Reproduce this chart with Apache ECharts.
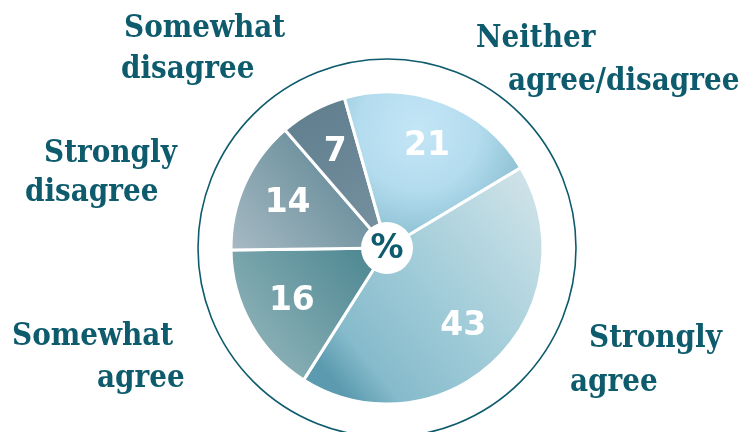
<!DOCTYPE html>
<html>
<head>
<meta charset="utf-8">
<script src="https://cdn.jsdelivr.net/npm/echarts@6/dist/echarts.min.js"></script>
<style>
  html, body { margin: 0; padding: 0; background: #fff; }
  #chart { width: 752px; height: 432px; }
</style>
</head>
<body>
<div id="chart"></div>
<script>
// Survey responses, in percent, listed clockwise from the upper-right edge
const categories = ['Strongly agree', 'Somewhat agree', 'Strongly disagree', 'Somewhat disagree', 'Neither agree/disagree'];
const values = [43, 16, 14, 7, 21];
const centerSymbol = '%';

const teal = '#0d5b6c';
const cx = 387, cy = 248, pieR = 156;

// Shaded fill for each slice
const fills = [
  { type: 'linear', x: 0.05, y: 0.8, x2: 0.95, y2: 0.05, colorStops: [
    { offset: 0, color: '#5b9aaf' }, { offset: 0.14, color: '#86bbcb' },
    { offset: 0.55, color: '#a6cfdb' }, { offset: 1, color: '#d0e3e8' }] },
  { type: 'linear', x: 1, y: 0, x2: 0, y2: 1, colorStops: [
    { offset: 0, color: '#46838e' }, { offset: 1, color: '#9cbbc0' }] },
  { type: 'linear', x: 0.9, y: 0.05, x2: 0.05, y2: 1, colorStops: [
    { offset: 0, color: '#56808f' }, { offset: 1, color: '#a5b9c2' }] },
  { type: 'linear', x: 0.2, y: 0, x2: 0.9, y2: 1, colorStops: [
    { offset: 0, color: '#5f7e8e' }, { offset: 1, color: '#7891a0' }] },
  { type: 'radial', x: 0.42, y: 0.25, r: 0.85, colorStops: [
    { offset: 0, color: '#c4e6f6' }, { offset: 0.45, color: '#b3dcee' },
    { offset: 0.8, color: '#8ec2d4' }, { offset: 1, color: '#5f9db1' }] }
];

// Where each category name sits (left edge and vertical centre of each line)
const nameLayout = [
  [[589, 339], [570, 383]],
  [[12, 337], [97, 379]],
  [[44, 154], [25, 193]],
  [[124, 29], [121, 70]],
  [[476, 39], [508, 82]]
];

const graphics = [
  { type: 'circle', shape: { cx: cx, cy: cy, r: 189 }, style: { fill: 'none', stroke: teal, lineWidth: 1.6 }, z: 1 },
  { type: 'circle', shape: { cx: cx, cy: cy, r: 26 }, style: { fill: '#ffffff' }, z: 100 },
  { type: 'text', z: 101, style: { text: centerSymbol, x: cx, y: cy + 1, textAlign: 'center', textVerticalAlign: 'middle',
    font: 'bold 33px "DejaVu Sans"', fill: teal } }
];

categories.forEach(function (name, i) {
  const cut = name.indexOf(' ');
  const lines = [name.slice(0, cut), name.slice(cut + 1)];
  lines.forEach(function (line, j) {
    graphics.push({
      type: 'text', z: 50,
      style: {
        text: line, x: nameLayout[i][j][0], y: nameLayout[i][j][1],
        textAlign: 'left', textVerticalAlign: 'middle',
        font: 'bold 31px "DejaVu Serif Condensed", "DejaVu Serif", serif',
        fill: teal
      }
    });
  });
});

const chart = echarts.init(document.getElementById('chart'), null, { renderer: 'canvas' });
chart.setOption({
  animation: false,
  backgroundColor: '#ffffff',
  series: [
    {
      type: 'pie',
      center: [cx, cy],
      radius: [0, pieR],
      startAngle: 31,
      clockwise: true,
      silent: true,
      label: { show: false },
      labelLine: { show: false },
      emphasis: { disabled: true },
      itemStyle: { borderColor: '#ffffff', borderWidth: 3 },
      data: values.map(function (v, i) {
        return { name: categories[i], value: v, itemStyle: { color: fills[i] } };
      })
    },
    {
      type: 'pie',
      center: [cx, cy],
      radius: [56, pieR],
      startAngle: 31,
      clockwise: true,
      silent: true,
      emphasis: { disabled: true },
      itemStyle: { color: 'rgba(0,0,0,0)' },
      labelLine: { show: false },
      label: {
        show: true, position: 'inside', formatter: '{c}',
        color: '#ffffff', fontFamily: 'DejaVu Sans', fontWeight: 'bold', fontSize: 33
      },
      data: values.map(function (v, i) { return { name: categories[i], value: v }; })
    }
  ],
  graphic: graphics
});
</script>
</body>
</html>
